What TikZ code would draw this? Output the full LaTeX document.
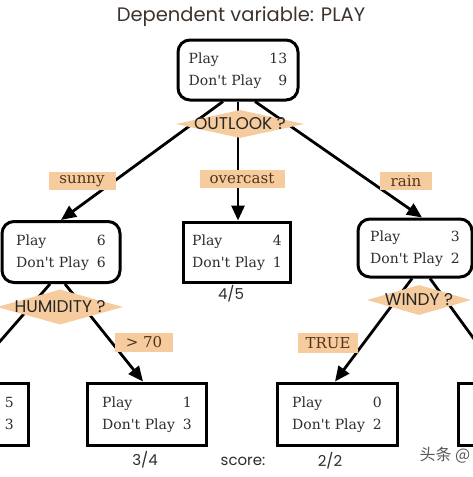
\documentclass[tikz,border=0pt]{standalone}
\usepackage{fontspec}
\newfontfamily\headfont{Poppins}
\newfontfamily\bodyfont{DejaVu Serif}
\newfontfamily\cjkfont{Noto Sans CJK SC}
\usetikzlibrary{arrows.meta,shapes.geometric}
\definecolor{peach}{RGB}{246,204,158}
\definecolor{labelink}{RGB}{80,52,30}
\definecolor{boxink}{RGB}{45,45,45}
\definecolor{titleink}{RGB}{62,52,46}
\newcommand{\tally}[2]{\begin{tabular}{@{}l@{\hspace{8pt}}r@{}}Play & #1\\ Don't Play & #2\end{tabular}}

\begin{document}
\begin{tikzpicture}[
    x=1pt, y=-1pt,
    box/.style={draw=black, line width=3pt, fill=white, inner sep=0pt, text=boxink, font=\bodyfont\fontsize{14}{22}\selectfont},
    roundbox/.style={box, rounded corners=12pt},
    test/.style={diamond, fill=peach, inner sep=0pt, text=black!85, font=\headfont\fontsize{17}{18}\selectfont},
    answer/.style={fill=peach, inner sep=0pt, minimum height=18pt, text=labelink, font=\bodyfont\fontsize{15}{18}\selectfont},
    branch/.style={draw=black, line width=2.8pt, -{Triangle[length=15pt,width=13pt]}},
    score/.style={text=boxink, font=\headfont\fontsize{15}{18}\selectfont}
]

\useasboundingbox (0,0) rectangle (473,477);
\clip (0,0) rectangle (473,477);
\fill[white] (0,0) rectangle (473,477);

\node (title) at (241,17) [text=titleink, font=\headfont\fontsize{19.5}{22}\selectfont] {Dependent variable: PLAY};

% boxes
\node (root) at (238,70) [roundbox, minimum width=120pt, minimum height=60pt] {\tally{13}{9}};
\node (sunny) at (61,252) [roundbox, minimum width=118pt, minimum height=61pt] {\tally{6}{6}};
\node (over) at (237,252) [box, minimum width=107pt, minimum height=60pt] {\tally{4}{1}};
\node (rain) at (415,248) [roundbox, minimum width=114pt, minimum height=58pt] {\tally{3}{2}};
\node (low) at (-31,414) [box, minimum width=119pt, minimum height=62pt] {\tally{5}{3}};
\node (high) at (147,414) [box, minimum width=119pt, minimum height=62pt] {\tally{1}{3}};
\node (calm) at (337,414) [box, minimum width=120pt, minimum height=62pt] {\tally{0}{2}};
\node (gust) at (518,414) [box, minimum width=120pt, minimum height=62pt] {\tally{3}{0}};

% branches
\draw[branch] ([xshift=-15pt]root.south) -- (sunny.north);
\draw[branch] (root.south) -- (root.south |- over.north);
\draw[branch] ([xshift=17pt]root.south) -- ([xshift=7pt]rain.north);
\draw[branch] ([xshift=-11pt]sunny.south) -- ([xshift=-4pt]low.north);
\draw[branch] ([xshift=4pt]sunny.south) -- ([xshift=-4pt]high.north);
\draw[branch] ([xshift=-3pt]rain.south) -- ([xshift=-2pt]calm.north);
\draw[branch] ([xshift=15pt]rain.south) -- ([xshift=-13pt]gust.north);

% tests
\node (outlook) at (240,124) [test, minimum width=128pt, minimum height=28pt] {\makebox[0pt]{OUTLOOK ?}};
\node (humidity) at (60,307) [test, minimum width=126pt, minimum height=35pt] {\makebox[0pt]{HUMIDITY ?}};
\node (windy) at (419,300) [test, minimum width=104pt, minimum height=30pt] {\makebox[0pt]{WINDY ?}};

% answers
\node (sunnylab) at (82,181) [answer, minimum width=67pt] {sunny};
\node (overlab) at (242,179) [answer, minimum width=85pt] {overcast};
\node (rainlab) at (406,181) [answer, minimum width=52pt] {rain};
\node (highlab) at (144,342) [answer, minimum width=58pt, minimum height=19pt] {> 70};
\node (truelab) at (328,343) [answer, minimum width=60pt, minimum height=20pt] {TRUE};

% scores
\node (overscore) at (231,294) [score] {4/5};
\node (highscore) at (145,460) [score] {3/4};
\node (scorehead) at (243,461) [score] {score:};
\node (calmscore) at (330,461) [score] {2/2};

\node (mark) at (416,455) [anchor=west, text=black!65, font=\cjkfont\fontsize{16}{16}\selectfont] {头条 @};

\end{tikzpicture}
\end{document}
